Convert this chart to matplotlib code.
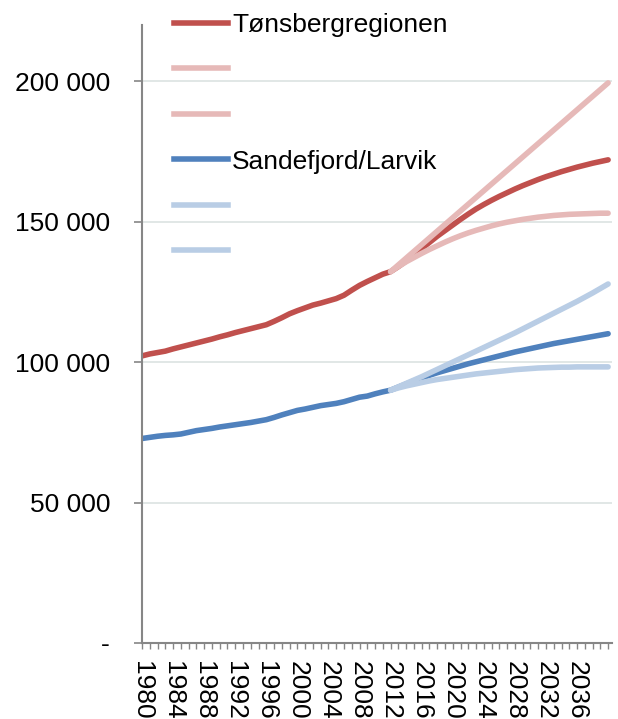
import numpy as np
import matplotlib
matplotlib.use("Agg")
import matplotlib.pyplot as plt
import matplotlib.transforms as mtransforms
from matplotlib.ticker import FuncFormatter, MultipleLocator
from matplotlib.lines import Line2D

plt.rcParams['font.family'] = ['Liberation Sans', 'DejaVu Sans']

# historical population, 1980-2011
years_hist = list(range(1980, 2012))
tons_hist = [102.2, 102.9, 103.4, 103.9, 104.7, 105.4, 106.1, 106.8, 107.5, 108.2,
             109.0, 109.7, 110.5, 111.2, 111.9, 112.6, 113.3, 114.5, 115.8, 117.2,
             118.3, 119.3, 120.3, 121.0, 121.8, 122.6, 123.8, 125.6, 127.3, 128.7,
             130.0, 131.3]
sand_hist = [72.8, 73.2, 73.6, 73.9, 74.1, 74.4, 75.0, 75.6, 76.0, 76.4,
             76.9, 77.3, 77.7, 78.1, 78.5, 79.0, 79.5, 80.3, 81.2, 82.0,
             82.8, 83.3, 83.9, 84.5, 84.9, 85.3, 85.9, 86.7, 87.5, 87.9,
             88.7, 89.4]

# projections, 2012-2040 (thousands)
years_proj = list(range(2012, 2041))
tons_mid = [132.2, 134.0, 136.0, 138.0, 140.4, 142.6, 144.8, 146.8, 148.8, 150.8,
            152.7, 154.5, 156.1, 157.6, 159.0, 160.3, 161.6, 162.8, 163.9, 165.0,
            166.0, 166.9, 167.8, 168.6, 169.4, 170.1, 170.8, 171.4, 172.0]
tons_high = [132.2, 134.6, 137.0, 139.4, 141.8, 144.2, 146.6, 149.0, 151.4, 153.8,
             156.2, 158.6, 161.0, 163.4, 165.8, 168.2, 170.6, 173.0, 175.4, 177.8,
             180.2, 182.6, 185.0, 187.4, 189.8, 192.2, 194.6, 197.0, 199.4]
tons_low = [132.2, 134.0, 135.7, 137.2, 138.7, 140.1, 141.4, 142.7, 143.9, 145.0,
            146.0, 146.9, 147.7, 148.5, 149.2, 149.8, 150.3, 150.8, 151.2, 151.6,
            151.9, 152.2, 152.4, 152.6, 152.7, 152.8, 152.9, 153.0, 153.0]
sand_mid = [90.0, 91.1, 92.2, 93.3, 94.3, 95.3, 96.2, 97.0, 97.8, 98.6,
            99.4, 100.1, 100.8, 101.5, 102.2, 102.9, 103.6, 104.2, 104.8, 105.4,
            106.0, 106.6, 107.1, 107.6, 108.1, 108.6, 109.1, 109.6, 110.1]
sand_high = [90.0, 91.2, 92.4, 93.6, 94.8, 96.1, 97.4, 98.7, 100.0, 101.3,
             102.6, 103.9, 105.2, 106.5, 107.8, 109.1, 110.4, 111.8, 113.2, 114.6,
             116.0, 117.4, 118.8, 120.2, 121.6, 123.1, 124.6, 126.2, 127.8]
sand_low = [90.0, 90.8, 91.5, 92.1, 92.7, 93.3, 93.8, 94.2, 94.6, 95.0,
            95.4, 95.8, 96.1, 96.4, 96.7, 97.0, 97.3, 97.5, 97.7, 97.9,
            98.0, 98.1, 98.2, 98.2, 98.3, 98.3, 98.3, 98.3, 98.3]

label_years = list(range(1980, 2037, 4))

dark_red = '#C0504D'
light_red = '#E6B9B8'
dark_blue = '#4F81BD'
light_blue = '#B9CDE5'

fig = plt.figure(figsize=(6.18, 7.19), dpi=100)
ax = fig.add_axes([142/618, 1 - 643/719, 470/618, 618/719])

yrs_all = years_hist + years_proj
lw = 4
ax.plot(yrs_all, np.array(tons_hist + tons_mid) * 1000, color=dark_red, lw=lw, solid_capstyle='round')
ax.plot(years_proj, np.array(tons_high) * 1000, color=light_red, lw=lw, solid_capstyle='round')
ax.plot(years_proj, np.array(tons_low) * 1000, color=light_red, lw=lw, solid_capstyle='round')
ax.plot(yrs_all, np.array(sand_hist + sand_mid) * 1000, color=dark_blue, lw=lw, solid_capstyle='round')
ax.plot(years_proj, np.array(sand_high) * 1000, color=light_blue, lw=lw, solid_capstyle='round')
ax.plot(years_proj, np.array(sand_low) * 1000, color=light_blue, lw=lw, solid_capstyle='round')

ax.set_xlim(1980, 2040.5)
ax.set_ylim(0, 220000)

ax.set_yticks([0, 50000, 100000, 150000, 200000])
ax.yaxis.set_major_formatter(FuncFormatter(
    lambda v, p: '-' if v == 0 else f'{int(v):,}'.replace(',', ' ')))
ax.grid(axis='y', color='#DCE3E1', lw=1.2)
ax.set_axisbelow(True)

ax.set_xticks(label_years)
ax.set_xticklabels([str(y) for y in label_years], rotation=-90, va='top', ha='center')
ax.xaxis.set_minor_locator(MultipleLocator(1))
shift = mtransforms.ScaledTranslation(-3/100, 0, fig.dpi_scale_trans)
for t in ax.get_xticklabels():
    t.set_transform(t.get_transform() + shift)

for s in ['top', 'right']:
    ax.spines[s].set_visible(False)
for s in ['left', 'bottom']:
    ax.spines[s].set_color('#868686')
    ax.spines[s].set_linewidth(1.5)

ax.tick_params(axis='y', length=6, width=1.2, color='#868686', labelsize=19, pad=17)
ax.tick_params(axis='x', which='both', length=4, width=1, color='#868686', labelsize=19, pad=9)

handles = [Line2D([], [], color=c, lw=lw) for c in
           [dark_red, light_red, light_red, dark_blue, light_blue, light_blue]]
labels = ['Tønsbergregionen', '', '', 'Sandefjord/Larvik', '', '']
ax.legend(handles, labels, loc='upper left', bbox_to_anchor=(174/618, 1 - 13/719),
          bbox_transform=fig.transFigure, frameon=False, fontsize=19,
          handlelength=2.05, handletextpad=0.15, labelspacing=0.815, borderpad=0,
          borderaxespad=0)

fig.savefig('out.png', dpi=100)
